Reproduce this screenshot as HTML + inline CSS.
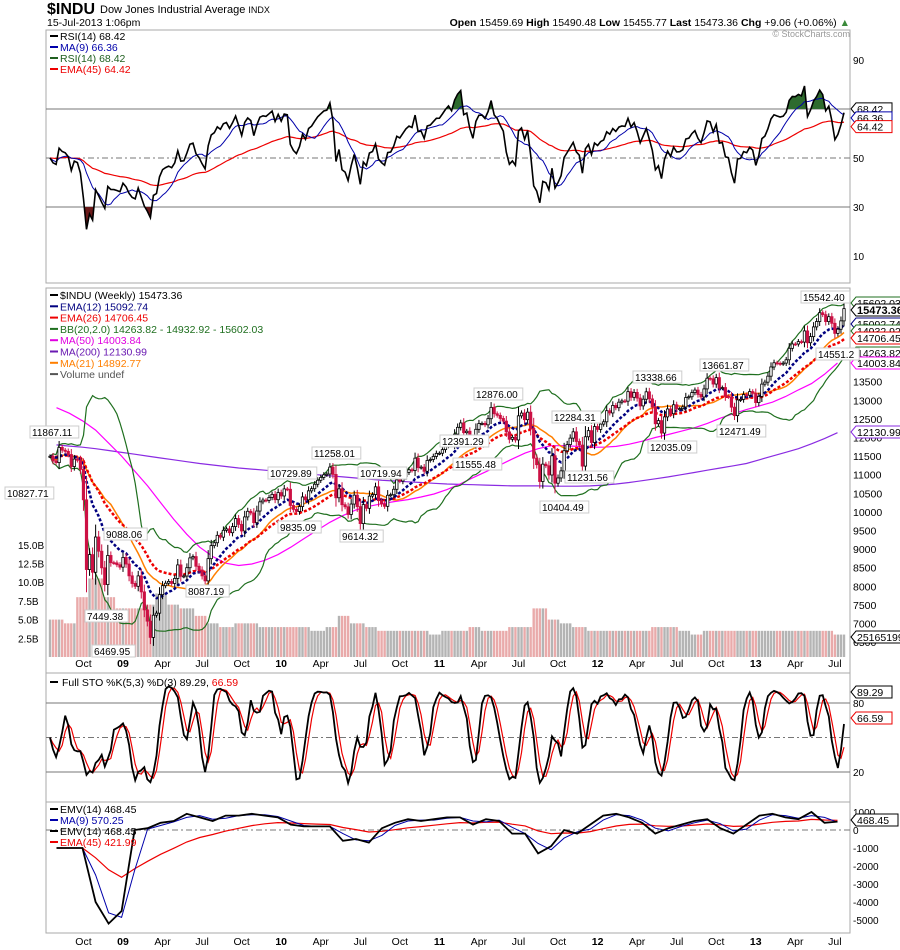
<!DOCTYPE html>
<html><head><meta charset="utf-8"><style>
html,body{margin:0;padding:0;background:#fff;}
svg{display:block;font-family:"Liberation Sans",sans-serif;}
</style></head><body>
<svg id="chart" width="900" height="950" viewBox="0 0 900 950" xmlns="http://www.w3.org/2000/svg">
<text x="47" y="14" font-size="16" font-weight="bold">$INDU</text>
<text x="100" y="13" font-size="11">Dow Jones Industrial Average <tspan font-size="9">INDX</tspan></text>
<text x="47" y="26" font-size="10.5">15-Jul-2013 1:06pm</text>
<text x="850" y="26" font-size="10.5" text-anchor="end"><tspan font-weight="bold">Open</tspan> 15459.69 <tspan font-weight="bold">High</tspan> 15490.48 <tspan font-weight="bold">Low</tspan> 15455.77 <tspan font-weight="bold">Last</tspan> 15473.36 <tspan font-weight="bold">Chg</tspan> +9.06 (+0.06%) <tspan fill="#3a8a3a">▲</tspan></text>
<text x="850" y="37" font-size="9" fill="#999" text-anchor="end">© StockCharts.com</text>
<g id="layer"></g>
</svg>
<script>
// ---- DATA ----
const closes = [11496,11370,11326,11734,11659,11628,11543,11220,11421,11388,11143,10325,8451,8852,8378,9325,8943,8497,8046,8829,8635,8629,8579,8515,
8776,8599,8281,8077,8000,8280,7850,7366,7063,6627,7223,7278,7776,8017,8083,8131,8076,8212,8575,8268,8277,8500,8763,8799,8539,8438,8280,8146,8743,9093,9171,9370,9321,9505,9544,9441,9605,9820,9665,9487,9865,10016,9972,9712,10023,10270,10318,10309,10388,10471,10328,10520,10428,
10618,10609,10173,10067,10012,10144,10402,10325,10566,10624,10742,10850,10927,10997,11018,11204,11008,10380,10620,10193,10137,9931,10211,10450,10143,9686,10198,10097,10424,10467,10674,10303,10213,10150,10447,10462,10608,10860,10830,10948,11062,11133,11113,11444,11192,11204,11092,11383,11410,11491,11573,11577,
11674,11787,11871,11823,12092,12273,12391,12130,12169,11984,11858,12220,12376,12380,12341,12505,12810,12638,12596,12512,12441,12151,11952,12004,11934,12582,12657,12479,12681,12240,11444,11269,10817,11284,11240,10992,11509,10771,10913,11103,11644,11809,11983,12153,11893,11796,11231,12020,12184,11866,12294,12217,
12360,12422,12720,12660,12862,12801,12949,12983,12977,13232,13080,13212,13060,12850,13029,13228,13038,12820,12369,12454,12119,12554,12767,12640,12880,12772,12777,12822,13075,13096,13207,13275,13157,13090,13306,13593,13579,13437,13610,13328,13343,13107,13093,12815,12588,13010,13025,13155,13135,13235,13190,12938,13104,
13435,13488,13649,13896,14009,13993,13981,14000,14089,14397,14514,14512,14578,14565,14865,14547,14712,14973,15118,15354,15303,15116,15248,15070,14799,14910,15135,15464];
const ma200Monthly = [11800,11770,11740,11700,11650,11600,
11550,11500,11450,11400,11350,11300,11260,11220,11180,11150,11120,11090,
11060,11030,11000,10970,10940,10910,10880,10850,10830,10810,10790,10770,
10750,10740,10730,10720,10710,10700,10700,10700,10690,10690,10690,10700,
10720,10750,10790,10840,10890,10940,11000,11060,11120,11180,11240,11300,
11400,11500,11600,11700,11830,11970,12130];
const ma50Monthly = [12800,12650,12450,12200,11850,11500,
11100,10700,10250,9800,9400,9050,8800,8620,8560,8600,8700,8850,
9050,9280,9500,9720,9900,10050,10150,10220,10280,10330,10400,10480,
10600,10750,10920,11080,11250,11420,11580,11700,11780,11780,11760,11740,
11740,11760,11820,11900,12000,12080,12170,12260,12380,12520,12640,12750,
12850,12950,13100,13280,13450,13700,14004];
const volumeMonthly = [5.0,4.5,8.0,10.5,8.0,6.5,
6.5,7.0,8.5,7.0,6.5,5.5,4.5,4.0,4.5,4.5,4.0,4.0,
4.0,4.0,3.5,4.0,5.5,4.5,4.0,3.5,3.5,3.5,3.5,3.0,
3.5,3.5,4.0,3.5,3.5,4.0,4.0,6.5,5.0,4.5,4.0,3.5,
3.5,3.5,3.5,3.5,4.0,4.0,3.5,3.0,3.5,3.5,3.5,3.5,
3.5,3.5,3.5,3.5,3.5,3.5,3.0];
const emvMonthly = [-1000,-1000,-1000,-4000,-5200,-4500,
0,100,400,500,900,700,500,800,800,900,800,700,
300,200,200,200,-600,-500,-700,100,400,600,500,600,
700,700,300,600,500,-200,-200,-1300,-900,0,-200,300,
800,900,700,400,-200,100,300,500,600,100,-200,300,
800,900,700,600,1000,400,468];
const tickLabels = ["Oct","09","Apr","Jul","Oct","10","Apr","Jul","Oct","11","Apr","Jul","Oct","12","Apr","Jul","Oct","13","Apr","Jul"];
const tickWeeks = [11,24,37,50,63,76,89,102,115,128,141,154,167,180,193,206,219,232,245,258];
const priceTicks = [6500,7000,7500,8000,8500,9000,9500,10000,10500,11000,11500,12000,12500,13000,13500,14000,14500,15000,15500];
const volTicks = [2.5,5,7.5,10,12.5,15];
const rsiTicks = [10,30,50,70,90];
const stoTicks = [20,50,80];
const emvTicks = [1000,0,-1000,-2000,-3000,-4000,-5000];

// ---- SETUP ----
const NS="http://www.w3.org/2000/svg";
const L=document.getElementById('layer');
function mk(tag,attrs,parent){const e=document.createElementNS(NS,tag);for(const k in attrs)e.setAttribute(k,attrs[k]);(parent||L).appendChild(e);return e;}
const N=closes.length, X0=50, X1=844;
const xw=i=>X0+i*(X1-X0)/(N-1);
const xm=m=>X0+(m+0.5)*(X1-X0)/ma200Monthly.length;
const yP=v=>381.7-(v-13500)*0.0372;
const yV=v=>657-v*7.48;
const yR=v=>256-(v-10)*2.45;
const yS=v=>795-v*1.15;
const yE=v=>830-v*0.018;
const monthOf=i=>Math.min(60,Math.floor(i*61/N));

const panels=[["rsi-panel",30,283],["price-panel",288,673],["sto-panel",673,802],["emv-panel",802,933]];
for(const p of panels){const r=mk('rect',{x:46,y:p[1],width:804,height:p[2]-p[1],fill:'none',stroke:'#aaa','stroke-width':1});

}

function txt(x,y,s,opt){const t=mk('text',Object.assign({x:x,y:y,'font-size':10},opt||{}));t.textContent=s;return t;}
function line(pts,stroke,w,dash){let d='';pts.forEach((p,i)=>{d+=(i?'L':'M')+p[0].toFixed(1)+','+p[1].toFixed(1);});return mk('path',Object.assign({d:d,fill:'none',stroke:stroke,'stroke-width':w},dash?{'stroke-dasharray':dash}:{}));}

const opens=closes.map((c,i)=>i?closes[i-1]:c);
const highs=closes.map((c,i)=>Math.max(c,opens[i])+0.3*Math.abs(c-opens[i])+50);
const lows=closes.map((c,i)=>Math.min(c,opens[i])-0.3*Math.abs(c-opens[i])-50);
function ema(a,n){const k=2/(n+1);const o=[];a.forEach((v,i)=>o.push(i?o[i-1]+k*(v-o[i-1]):v));return o;}
function sma(a,n){return a.map((v,i)=>{const s=a.slice(Math.max(0,i-n+1),i+1);return s.reduce((p,q)=>p+q,0)/s.length;});}
const ema12=ema(closes,12), ema26=ema(closes,26), ma21=sma(closes,21), mid20=sma(closes,20);
const sd20=closes.map((v,i)=>{const s=closes.slice(Math.max(0,i-19),i+1);const m=mid20[i];return Math.sqrt(s.reduce((p,q)=>p+(q-m)*(q-m),0)/s.length);});
const bbU=mid20.map((m,i)=>m+2*sd20[i]), bbL=mid20.map((m,i)=>m-2*sd20[i]);

for(const v of [70,30]){const g=mk('line',{x1:46,x2:850,y1:yR(v),y2:yR(v),stroke:'#777','stroke-width':1});}
{const g=mk('line',{x1:46,x2:850,y1:yR(50),y2:yR(50),stroke:'#777','stroke-width':1,'stroke-dasharray':'6,3,2,3'});}
for(const v of [80,20]){const g=mk('line',{x1:46,x2:850,y1:yS(v),y2:yS(v),stroke:'#777','stroke-width':1});}
{const g=mk('line',{x1:46,x2:850,y1:yS(50),y2:yS(50),stroke:'#777','stroke-width':1,'stroke-dasharray':'6,3,2,3'});}
{const g=mk('line',{x1:46,x2:850,y1:yE(0),y2:yE(0),stroke:'#777','stroke-width':1,'stroke-dasharray':'6,3,2,3'});}

closes.forEach((c,i)=>{const v=volumeMonthly[monthOf(i)];const r=mk('rect',{x:xw(i)-1.2,y:yV(v),width:2.4,height:657-yV(v),fill:c<opens[i]?'#e9aaaa':'#b4b4b4'});

});

let e;
e=line(ma200Monthly.map((v,m)=>[xm(m),yP(v)]),'#8a2be2',1.2);
e=line(ma50Monthly.map((v,m)=>[xm(m),yP(v)]),'#ff00ff',1.2);
e=line(bbU.map((v,i)=>[xw(i),Math.max(290,yP(v))]),'#1f6f1f',1.2);
e=line(bbL.map((v,i)=>[xw(i),yP(v)]),'#1f6f1f',1.2);
e=line(ma21.map((v,i)=>[xw(i),yP(v)]),'#ff7f00',1.5);
e=line(ema26.map((v,i)=>[xw(i),yP(v)]),'#ee0000',2.5,'3,2');
e=line(ema12.map((v,i)=>[xw(i),yP(v)]),'#000080',2.5,'3,2');

closes.forEach((c,i)=>{const x=xw(i),o=opens[i],up=c>=o;const col=up?'#000':'#cc1144';
const w=mk('line',{x1:x,x2:x,y1:yP(highs[i]),y2:yP(lows[i]),stroke:col,'stroke-width':1});


const top=yP(Math.max(c,o)),h=Math.max(1,Math.abs(yP(c)-yP(o)));
const b=mk('rect',{x:x-1.2,y:top,width:2.4,height:h,fill:up?'#fff':'#cc1144',stroke:col,'stroke-width':0.8});

});

// RSI (Wilder, seeded with neutral averages)
const rsi=[];{let ag=120,al=120;closes.forEach((c,i)=>{if(i){const d=c-closes[i-1];ag=(ag*13+Math.max(d,0))/14;al=(al*13+Math.max(-d,0))/14;}rsi.push(100-100/(1+ag/al));});}
const rsiMa=sma(rsi,9), rsiEma=ema(rsi,45);
const defs=mk('defs',{});
const c1=mk('clipPath',{id:'above70'},defs);mk('rect',{x:46,y:30,width:804,height:yR(70)-30},c1);
const c2=mk('clipPath',{id:'below30'},defs);mk('rect',{x:46,y:yR(30),width:804,height:283-yR(30)},c2);
let ad='M'+xw(0)+','+yR(70);rsi.forEach((v,i)=>ad+='L'+xw(i).toFixed(1)+','+yR(v).toFixed(1));ad+='L'+xw(N-1)+','+yR(70)+'Z';
e=mk('path',{d:ad,fill:'#2e6b2e','clip-path':'url(#above70)'});
let bd='M'+xw(0)+','+yR(30);rsi.forEach((v,i)=>bd+='L'+xw(i).toFixed(1)+','+yR(v).toFixed(1));bd+='L'+xw(N-1)+','+yR(30)+'Z';
e=mk('path',{d:bd,fill:'#6b1a1a','clip-path':'url(#below30)'});
e=line(rsiEma.map((v,i)=>[xw(i),yR(v)]),'#e00',1.2);
e=line(rsiMa.map((v,i)=>[xw(i),yR(v)]),'#0000aa',1);
e=line(rsi.map((v,i)=>[xw(i),yR(v)]),'#000',1.6);

const rawK=closes.map((c,i)=>{const s=Math.max(0,i-4);const hh=Math.max(...highs.slice(s,i+1)),ll=Math.min(...lows.slice(s,i+1));return hh===ll?50:100*(c-ll)/(hh-ll);});
const kF=sma(rawK,3), dF=sma(kF,3);
e=line(dF.map((v,i)=>[xw(i),yS(v)]),'#e00',1.2);
e=line(kF.map((v,i)=>[xw(i),yS(v)]),'#000',1.8);

const emvMa=sma(emvMonthly,2), emvEma=ema(emvMonthly,10);
e=line(emvEma.map((v,m)=>[xm(m),yE(v)]),'#e00',1.2);
e=line(emvMa.map((v,m)=>[xm(m),yE(v)]),'#0000aa',1);
e=line(emvMonthly.map((v,m)=>[xm(m),yE(v)]),'#000',1.8);

priceTicks.forEach(v=>{if(v>14300)return;const t=txt(853,yP(v)+4,String(v),{'font-size':10.5});});
volTicks.forEach(v=>{const t=txt(18,yV(v)+4,v.toFixed(1)+'B',{'font-size':10});});
rsiTicks.forEach(v=>{if(v===70)return;const t=txt(853,yR(v)+4,String(v),{'font-size':10});});
stoTicks.forEach(v=>{if(v===50)return;const t=txt(853,yS(v)+4,String(v),{'font-size':10});});
emvTicks.forEach(v=>{const t=txt(853,yE(v)+4,String(v),{'font-size':10});});
tickLabels.forEach((s,k)=>{const x=xw(tickWeeks[k]);const bold=/^\d/.test(s);
let t=txt(x,667,s,{'text-anchor':'middle','font-size':10.5,'font-weight':bold?'bold':'normal'});
t=txt(x,945,s,{'text-anchor':'middle','font-size':10.5,'font-weight':bold?'bold':'normal'});});

const tags=[[68.42,yR(68.42)-4,'#000','68.42'],[66.36,yR(66.36),'#00a','66.36'],[64.42,yR(64.42)+4,'#e00','64.42'],
[0,303,'#1f6f1f','15602.03'],[0,310,'#000','15473.36',1],[0,324,'#000080','15092.74'],[0,331,'#1f6f1f','14932.92'],[0,338,'#e00','14706.45'],[0,353,'#1f6f1f','14263.82'],[0,363,'#f0f','14003.84'],[0,432,'#8a2be2','12130.99'],[0,637,'#000','25165199'],
[0,692,'#000','89.29'],[0,718,'#e00','66.59'],[0,820,'#000','468.45']];
tags.forEach(g=>{const y=g[1];const w=g[3].length*6+6;
const p=mk('path',{d:`M851,${y} l5,-6 h${w} v12 h-${w} z`,fill:'#fff',stroke:g[2],'stroke-width':1});


const t=txt(857,y+4,g[3],{'font-size':g[4]?11:10.5,'font-weight':g[4]?'bold':'normal'});

});

const notes=[["11867.11",30,426],["10827.71",5,487],["9088.06",104,528],["7449.38",85,610],["6469.95",92,645],["8087.19",186,585],["10729.89",268,467],["11258.01",312,447],["9835.09",278,521],["10719.94",358,467],["9614.32",340,530],["12391.29",440,435],["12876.00",474,388],["11555.48",453,458],["12284.31",552,411],["11231.56",565,471],["10404.49",540,501],["13338.66",633,371],["12035.09",648,441],["13661.87",700,359],["12471.49",717,425],["15542.40",801,291],["14551.2",816,348]];
notes.forEach(n=>{const w=n[0].length*5.6+4;
const r=mk('rect',{x:n[1],y:n[2],width:w,height:12,fill:'#fff',stroke:'#ccc','stroke-width':1});


const t=txt(n[1]+2,n[2]+10,n[0],{'font-size':10});

});

function legend(x,y,s,col,sw,name){const m=mk('rect',{x:x,y:y-5,width:8,height:2,fill:col});
const t=txt(x+10,y,s,{'font-size':10.5,fill:col});}
legend(50,40,'RSI(14) 68.42','#000',0,'rsi-legend');
legend(50,51,'MA(9) 66.36','#0000aa',0,'rsi-ma-legend');
legend(50,62,'RSI(14) 68.42','#1f5f1f',0,'rsi-legend-2');
legend(50,73,'EMA(45) 64.42','#e00',0,'rsi-ema-legend');
const pl=[['$INDU (Weekly) 15473.36','#000'],['EMA(12) 15092.74','#000080'],['EMA(26) 14706.45','#e00'],['BB(20,2.0) 14263.82 - 14932.92 - 15602.03','#1f6f1f'],['MA(50) 14003.84','#e000e0'],['MA(200) 12130.99','#6a1ab2'],['MA(21) 14892.77','#ff7f00'],['Volume undef','#555']];
pl.forEach((p,k)=>legend(50,299+k*11.3,p[0],p[1],0,'price-legend-entry'));
{const m=mk('rect',{x:50,y:681,width:8,height:2,fill:'#000'});
const t=mk('text',{x:62,y:686,'font-size':10.5});t.innerHTML='Full STO %K(5,3) %D(3) 89.29, <tspan fill="#e00">66.59</tspan>';}
legend(50,813,'EMV(14) 468.45','#000',0,'emv-legend');
legend(50,824,'MA(9) 570.25','#0000aa',0,'emv-ma-legend');
legend(50,835,'EMV(14) 468.45','#000',0,'emv-legend-2');
legend(50,846,'EMA(45) 421.99','#e00',0,'emv-ema-legend');
</script>
</body></html>
